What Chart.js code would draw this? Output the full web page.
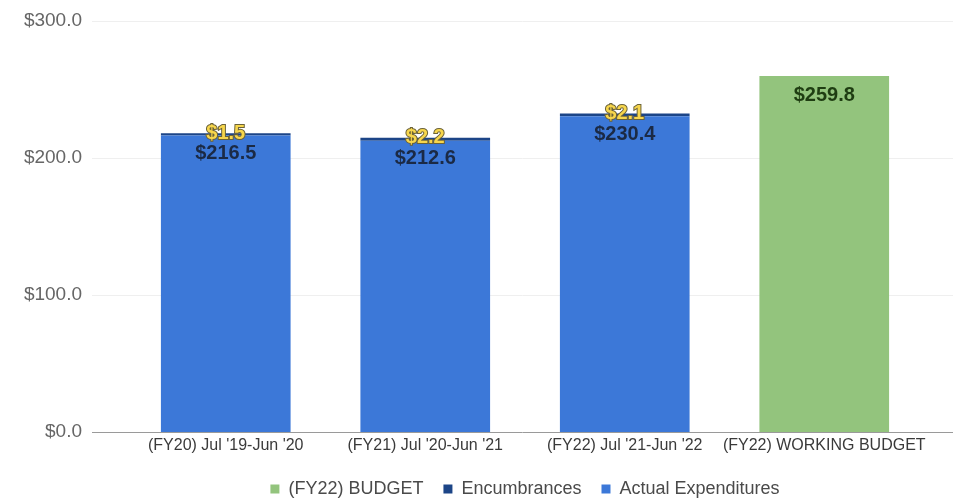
<!DOCTYPE html>
<html>
<head>
<meta charset="utf-8">
<script src="https://cdn.jsdelivr.net/npm/chart.js@4/dist/chart.umd.min.js"></script>
<style>
  html, body { margin: 0; padding: 0; background: #fff; }
  #wrap { width: 953px; height: 504px; position: relative; }
</style>
</head>
<body>
<div id="wrap"><canvas id="budgetChart"></canvas></div>
<script>
// categories and series (millions of dollars)
const categories = ["(FY20) Jul '19-Jun '20", "(FY21) Jul '20-Jun '21", "(FY22) Jul '21-Jun '22", "(FY22) WORKING BUDGET"];
const actualExpenditures = [216.5, 212.6, 230.4, null];
const encumbrances = [1.5, 2.2, 2.1, null];
const workingBudget = [null, null, null, 259.8];
const yTicks = [0, 100, 200, 300];

const FONT = "'Liberation Sans', Arial, sans-serif";

function money(v) {
    return "$" + v.toFixed(1);
}

// faint grid lines drawn full width, plus the darker zero line
const gridPlugin = {
    id: "wideGrid",
    beforeDatasetsDraw(chart) {
        const ctx = chart.ctx;
        const y = chart.scales.y;
        ctx.save();
        yTicks.forEach(function (t) {
            const py = Math.round(y.getPixelForValue(t)) + 0.5;
            ctx.strokeStyle = t === 0 ? "#9a9a9a" : "#efefef";
            ctx.lineWidth = 1;
            ctx.beginPath();
            ctx.moveTo(92, py);
            ctx.lineTo(chart.width, py);
            ctx.stroke();
        });
        ctx.restore();
    }
};

// value labels on the bars
const labelPlugin = {
    id: "barLabels",
    afterDatasetsDraw(chart) {
        const ctx = chart.ctx;
        ctx.save();
        ctx.textAlign = "center";
        ctx.textBaseline = "middle";
        ctx.font = "bold 20px " + FONT;
        // actual expenditures: dark text just inside the top
        chart.getDatasetMeta(0).data.forEach(function (bar, i) {
            const v = actualExpenditures[i];
            if (v == null) return;
            ctx.fillStyle = "#1b2a45";
            ctx.fillText(money(v), bar.x, bar.y + 18);
        });
        // budget bar
        chart.getDatasetMeta(2).data.forEach(function (bar, i) {
            const v = workingBudget[i];
            if (v == null) return;
            ctx.fillStyle = "#1f3d12";
            ctx.fillText(money(v), bar.x, bar.y + 19);
        });
        // encumbrances: gold with dark outline on the top edge
        chart.getDatasetMeta(1).data.forEach(function (bar, i) {
            const v = encumbrances[i];
            if (v == null) return;
            ctx.lineWidth = 2;
            ctx.strokeStyle = "#6b6238";
            ctx.strokeText(money(v), bar.x, bar.y);
            ctx.fillStyle = "#f7d64c";
            ctx.fillText(money(v), bar.x, bar.y);
        });
        ctx.restore();
    }
};

new Chart(document.getElementById("budgetChart"), {
    type: "bar",
    data: {
        labels: categories,
        datasets: [
            { label: "Actual Expenditures", data: actualExpenditures, backgroundColor: "#3c78d8" },
            { label: "Encumbrances", data: encumbrances, backgroundColor: "#1c4587" },
            { label: "(FY22) BUDGET", data: workingBudget, backgroundColor: "#93c47d" }
        ]
    },
    options: {
        responsive: true,
        maintainAspectRatio: false,
        animation: false,
        layout: { padding: { top: 21, right: 29, left: 0, bottom: -4 } },
        datasets: { bar: { barPercentage: 0.65, categoryPercentage: 1.0 } },
        scales: {
            x: {
                stacked: true,
                grid: { display: false, drawTicks: false },
                border: { display: false },
                afterFit(axis) { axis.height = 28; },
                ticks: { color: "#3a3a3a", font: { family: FONT, size: 16 }, padding: 4, maxRotation: 0, autoSkip: false }
            },
            y: {
                stacked: true,
                min: 0,
                max: 300,
                afterBuildTicks(axis) {
                    axis.ticks = yTicks.map(function (v) { return { value: v }; });
                },
                afterFit(axis) { axis.width = 126; },
                grid: { display: false, tickLength: 36 },
                border: { display: false },
                ticks: {
                    color: "#666",
                    padding: 8,
                    font: { family: FONT, size: 19 },
                    callback: function (v) { return money(v); }
                }
            }
        },
        plugins: {
            legend: {
                position: "bottom",
                fullSize: false,
                reverse: true,
                labels: {
                    color: "#4a4a4a",
                    font: { family: FONT, size: 18 },
                    boxWidth: 9,
                    boxHeight: 9,
                    padding: 20
                }
            },
            tooltip: { enabled: false }
        }
    },
    plugins: [gridPlugin, labelPlugin]
});
</script>
</body>
</html>
